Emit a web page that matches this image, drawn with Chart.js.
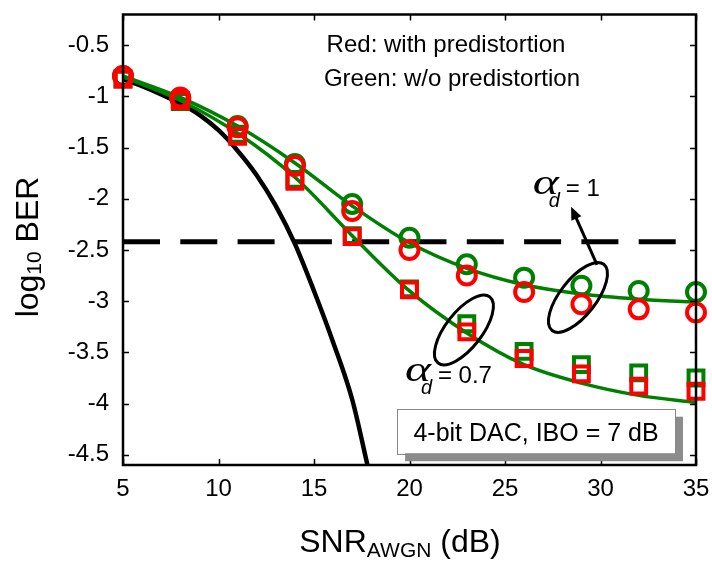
<!DOCTYPE html>
<html>
<head>
<meta charset="utf-8">
<script src="https://cdn.jsdelivr.net/npm/chart.js@4.4.1/dist/chart.umd.min.js"></script>
<style>
  html, body { margin: 0; padding: 0; background: #fff; }
</style>
</head>
<body>
<canvas id="berChart" width="712" height="565"></canvas>
<script>
// SNR points where BER was simulated
const snr = [5, 8, 11, 14, 17, 20, 23, 26, 29, 32, 35]
// log10 BER
const berRedCircle = [-0.80, -1.01, -1.30, -1.68, -2.12, -2.50, -2.75, -2.91, -3.03, -3.08, -3.11]
const berGreenCircle = [-0.80, -1.02, -1.29, -1.66, -2.05, -2.38, -2.64, -2.77, -2.85, -2.90, -2.91]
const berRedSquare = [-0.83, -1.04, -1.39, -1.83, -2.37, -2.89, -3.30, -3.56, -3.71, -3.83, -3.88]
const berGreenSquare = [-0.83, -1.05, -1.37, -1.81, -2.36, -2.88, -3.22, -3.49, -3.62, -3.70, -3.75]
// green analytical curves
const fitAlpha1 = [-0.80, -1.01, -1.29, -1.65, -2.07, -2.43, -2.68, -2.84, -2.93, -2.98, -3.01]
const fitAlpha07 = [-0.81, -1.04, -1.36, -1.79, -2.36, -2.90, -3.31, -3.62, -3.80, -3.92, -3.99]
// ideal AWGN curve (black)
const awgnSnr = [5, 6, 7, 8, 9, 10, 11, 12, 13, 14, 15, 16, 17, 17.8]
const awgnBer = [-0.83, -0.90, -0.98, -1.07, -1.18, -1.33, -1.53, -1.77, -2.07, -2.44, -2.90, -3.40, -3.96, -4.6]
const targetBer = -2.42

const xTicks = [5, 10, 15, 20, 25, 30, 35]
const yTicks = [-0.5, -1, -1.5, -2, -2.5, -3, -3.5, -4, -4.5]

const FONT = `"Liberation Sans", Arial, sans-serif`
const GREEN = `rgb(0,128,0)`
const RED = `rgb(255,0,0)`

const pts = (xs, ys) => xs.map((x, i) => ({ x, y: ys[i] }))

const markerSet = (label, ys, color, style, order) => ({
  label,
  data: pts(snr, ys),
  showLine: false,
  pointStyle: style,
  pointRadius: style === `rect` ? 10.5 : 9,
  pointBorderWidth: 4,
  pointBorderColor: color,
  pointBackgroundColor: `rgba(0,0,0,0)`,
  clip: false,
  order,
})

const curveSet = (label, data, color, width, order, extra = {}) => ({
  label,
  data,
  showLine: true,
  pointRadius: 0,
  borderColor: color,
  borderWidth: width,
  fill: false,
  order,
  ...extra,
})

// annotations, positioned in data units
const ellipses = [
  { x: 28.82, y: -2.963 },
  { x: 22.85, y: -3.281 },
]
const arrow = { from: [29.82, -2.646], to: [28.46, -2.077] }
const alphaLabels = [
  { x: 26.45, y: -1.95, value: `= 1` },
  { x: 19.76, y: -3.78, value: `= 0.7` },
]
const noteBox = { x0: 19.35, x1: 33.9, y0: -4.05, y1: -4.485, text: `4-bit DAC, IBO = 7 dB` }

const decor = {
  id: `decor`,
  afterDatasetsDraw(chart) {
    const { ctx, chartArea: a, scales } = chart
    const X = (v) => scales.x.getPixelForValue(v)
    const Y = (v) => scales.y.getPixelForValue(v)
    ctx.save()

    // frame with inward ticks on all sides
    ctx.strokeStyle = `#000`
    ctx.lineWidth = 2.5
    ctx.strokeRect(a.left, a.top, a.right - a.left, a.bottom - a.top)
    ctx.lineWidth = 1.5
    ctx.beginPath()
    xTicks.forEach((t) => {
      const p = Math.round(X(t)) + 0.5
      ctx.moveTo(p, a.bottom); ctx.lineTo(p, a.bottom - 6)
      ctx.moveTo(p, a.top); ctx.lineTo(p, a.top + 6)
    })
    yTicks.forEach((t) => {
      const p = Math.round(Y(t)) + 0.5
      ctx.moveTo(a.left, p); ctx.lineTo(a.left + 6, p)
      ctx.moveTo(a.right, p); ctx.lineTo(a.right - 6, p)
    })
    ctx.stroke()

    // ellipses around the curve pairs
    ctx.lineWidth = 3
    ellipses.forEach((e) => {
      ctx.beginPath()
      ctx.ellipse(X(e.x), Y(e.y), 42, 18, (-52 * Math.PI) / 180, 0, Math.PI * 2)
      ctx.stroke()
    })

    // arrow to the alpha_d = 1 label
    const [x1, y1] = [X(arrow.from[0]), Y(arrow.from[1])]
    const [x2, y2] = [X(arrow.to[0]), Y(arrow.to[1])]
    const ang = Math.atan2(y2 - y1, x2 - x1)
    ctx.lineWidth = 3
    ctx.beginPath()
    ctx.moveTo(x1, y1)
    ctx.lineTo(x2 - 8 * Math.cos(ang), y2 - 8 * Math.sin(ang))
    ctx.stroke()
    ctx.fillStyle = `#000`
    ctx.beginPath()
    ctx.moveTo(x2, y2)
    ctx.lineTo(x2 - 13 * Math.cos(ang) + 5.5 * Math.sin(ang), y2 - 13 * Math.sin(ang) - 5.5 * Math.cos(ang))
    ctx.lineTo(x2 - 13 * Math.cos(ang) - 5.5 * Math.sin(ang), y2 - 13 * Math.sin(ang) + 5.5 * Math.cos(ang))
    ctx.closePath()
    ctx.fill()

    // alpha_d labels
    ctx.textBaseline = `alphabetic`
    ctx.textAlign = `left`
    alphaLabels.forEach((l) => {
      const lx = X(l.x)
      const ly = Y(l.y)
      ctx.font = `italic 36px "Liberation Serif", "Times New Roman", serif`
      const w = ctx.measureText(`α`).width
      ctx.save()
      ctx.translate(lx, ly)
      ctx.scale(26 / w, 1)
      ctx.fillText(`α`, 0, 0)
      ctx.restore()
      ctx.font = `italic 20px ${FONT}`
      ctx.fillText(`d`, lx + 16, ly + 13)
      ctx.font = `24px ${FONT}`
      ctx.fillText(l.value, lx + 33, ly + 2)
    })

    // legend texts
    ctx.textAlign = `center`
    ctx.font = `24px ${FONT}`
    ctx.fillText(`Red: with predistortion`, 446, 52)
    ctx.fillText(`Green: w/o predistortion`, 452, 86)

    // note box with drop shadow
    const bx = X(noteBox.x0), bx1 = X(noteBox.x1)
    const by = Y(noteBox.y0), by1 = Y(noteBox.y1)
    ctx.fillStyle = `#8c8c8c`
    ctx.fillRect(bx + 8, by + 8, bx1 - bx, by1 - by)
    ctx.fillStyle = `#fff`
    ctx.fillRect(bx, by, bx1 - bx, by1 - by)
    ctx.strokeStyle = `#888`
    ctx.lineWidth = 1
    ctx.strokeRect(Math.round(bx) + 0.5, Math.round(by) + 0.5, Math.round(bx1 - bx), Math.round(by1 - by))
    ctx.fillStyle = `#000`
    ctx.font = `25px ${FONT}`
    ctx.fillText(noteBox.text, (bx + bx1) / 2, by + 32)

    ctx.restore()
  },
  afterDraw(chart) {
    const { ctx } = chart
    ctx.save()
    ctx.fillStyle = `#000`
    ctx.textBaseline = `alphabetic`
    ctx.textAlign = `left`

    // x-axis title: SNR_AWGN (dB)
    const parts = [
      [`SNR`, 32, 0],
      [`AWGN`, 21, 5],
      [` (dB)`, 32, 0],
    ]
    let total = 0
    parts.forEach(([t, s]) => { ctx.font = `${s}px ${FONT}`; total += ctx.measureText(t).width })
    let cx = 400 - total / 2
    parts.forEach(([t, s, dy]) => {
      ctx.font = `${s}px ${FONT}`
      ctx.fillText(t, cx, 552 + dy)
      cx += ctx.measureText(t).width
    })

    // y-axis title: log10 BER
    const yparts = [
      [`log`, 32, 0],
      [`10`, 21, 3],
      [` BER`, 32, 0],
    ]
    total = 0
    yparts.forEach(([t, s]) => { ctx.font = `${s}px ${FONT}`; total += ctx.measureText(t).width })
    ctx.translate(38, 247)
    ctx.rotate(-Math.PI / 2)
    cx = -total / 2
    yparts.forEach(([t, s, dy]) => {
      ctx.font = `${s}px ${FONT}`
      ctx.fillText(t, cx, dy)
      cx += ctx.measureText(t).width
    })
    ctx.restore()
  },
}

const data = {
  datasets: [
    markerSet(`Red circles`, berRedCircle, RED, `circle`, 0),
    markerSet(`Red squares`, berRedSquare, RED, `rect`, 0),
    markerSet(`Green circles`, berGreenCircle, GREEN, `circle`, 1),
    markerSet(`Green squares`, berGreenSquare, GREEN, `rect`, 1),
    curveSet(`Fit alpha 1`, pts(snr, fitAlpha1), GREEN, 3.5, 2, { tension: 0.35 }),
    curveSet(`Fit alpha 0.7`, pts(snr, fitAlpha07), GREEN, 3.5, 2, { tension: 0.35 }),
    curveSet(`Target BER`, [{ x: 5, y: targetBer }, { x: 35, y: targetBer }], `#000`, 5, 3, {
      borderDash: [37, 20.3],
      clip: false,
    }),
    curveSet(`AWGN`, pts(awgnSnr, awgnBer), `#000`, 4.5, 3, { cubicInterpolationMode: `monotone` }),
  ],
}

const config = {
  type: `scatter`,
  data,
  options: {
    responsive: false,
    animation: false,
    layout: { padding: { top: 8, right: 16, left: 0, bottom: 0 } },
    scales: {
      x: {
        type: `linear`,
        min: 5,
        max: 35,
        grid: { display: false, drawTicks: false },
        border: { display: false },
        ticks: { font: { family: FONT, size: 24 }, color: `#000`, padding: 10 },
        afterBuildTicks: (s) => { s.ticks = xTicks.map((value) => ({ value })) },
        afterFit: (s) => { s.height = 100; s.paddingLeft = 0; s.paddingRight = 0 },
      },
      y: {
        type: `linear`,
        min: -4.6,
        max: -0.2,
        grid: { display: false, drawTicks: false },
        border: { display: false },
        ticks: {
          font: { family: FONT, size: 24, lineHeight: 0.5 },
          color: `#000`,
          padding: 14,
          callback: (v) => String(v),
        },
        afterBuildTicks: (s) => { s.ticks = yTicks.map((value) => ({ value })) },
        afterFit: (s) => { s.width = 123; s.paddingTop = 0; s.paddingBottom = 0 },
      },
    },
    plugins: {
      legend: { display: false },
      tooltip: { enabled: false },
      title: { display: false },
    },
  },
  plugins: [decor],
}

new Chart(document.querySelector(`#berChart`), config)
</script>
</body>
</html>
